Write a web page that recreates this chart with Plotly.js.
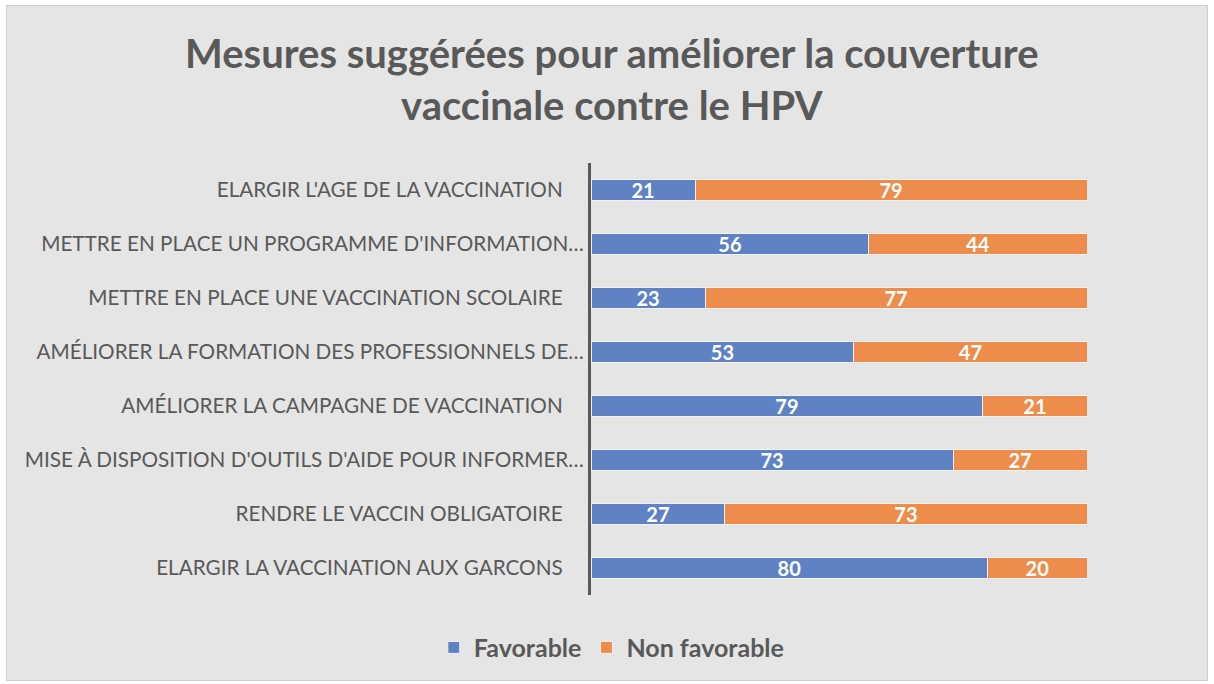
<!DOCTYPE html>
<html>
<head>
<meta charset="utf-8">
<script src="https://cdn.plot.ly/plotly-3.0.1.min.js"></script>
<style>
  body { margin: 0; background: #ffffff; }
  #chart {
    position: absolute; left: 6px; top: 5px;
    width: 1200px; height: 674px;
    border: 1px solid #cfcfcf;
  }
</style>
</head>
<body>
<div id="chart"></div>
<script>
// mesures proposées (de haut en bas)
var mesures = [
    "ELARGIR L'AGE DE LA VACCINATION ",
    "METTRE EN PLACE UN PROGRAMME D'INFORMATION…",
    "METTRE EN PLACE UNE VACCINATION SCOLAIRE ",
    "AMÉLIORER LA FORMATION DES PROFESSIONNELS DE…",
    "AMÉLIORER LA CAMPAGNE DE VACCINATION ",
    "MISE À DISPOSITION D'OUTILS D'AIDE POUR INFORMER…",
    "RENDRE LE VACCIN OBLIGATOIRE ",
    "ELARGIR LA VACCINATION AUX GARCONS "
];
var favorable = [21, 56, 23, 53, 79, 73, 27, 80];
var nonFavorable = [79, 44, 77, 47, 21, 27, 73, 20];

var grey = '#595959';
var fontFam = 'Lato, "Open Sans", sans-serif';

// l'espace final est gardé visible comme dans Excel
var etiquettes = mesures.map(function (s) {
    return s.replace(/ $/, '\u00a0\u00a0\u00a0\u00a0');
});

var trace1 = {
    type: 'bar',
    orientation: 'h',
    name: 'Favorable',
    y: mesures,
    x: favorable,
    text: favorable.map(String),
    textposition: 'inside',
    insidetextanchor: 'middle',
    textangle: 0,
    constraintext: 'none',
    textfont: {family: fontFam, size: 20, color: '#ffffff', weight: 'bold'},
    marker: {color: '#5e82c3', line: {color: '#f2f2f2', width: 1}},
    width: 0.4
};

var trace2 = {
    type: 'bar',
    orientation: 'h',
    name: 'Non favorable',
    y: mesures,
    x: nonFavorable,
    text: nonFavorable.map(String),
    textposition: 'inside',
    insidetextanchor: 'middle',
    textangle: 0,
    constraintext: 'none',
    textfont: {family: fontFam, size: 20, color: '#ffffff', weight: 'bold'},
    marker: {color: '#ee8c4b', line: {color: '#f2f2f2', width: 1}},
    width: 0.4
};

var layout = {
    barmode: 'stack',
    paper_bgcolor: '#e4e5e4',
    plot_bgcolor: '#e4e5e4',
    width: 1200,
    height: 674,
    margin: {l: 584, r: 120, t: 157, b: 85},
    title: {
        text: 'Mesures suggérées pour améliorer la couverture<br>vaccinale contre le HPV',
        font: {family: fontFam, size: 40, color: grey, weight: 'bold'},
        xref: 'container', x: 0.504, xanchor: 'center',
        yref: 'container', y: 0.908, yanchor: 'top'
    },
    xaxis: {
        range: [0, 100],
        showgrid: false,
        zeroline: false,
        showticklabels: false,
        fixedrange: true
    },
    yaxis: {
        autorange: 'reversed',
        tickmode: 'array',
        tickvals: mesures,
        ticktext: etiquettes,
        showline: true,
        linecolor: grey,
        linewidth: 3,
        ticks: '',
        ticklabelstandoff: 0,
        tickfont: {family: fontFam, size: 20.7, color: grey},
        automargin: false
    },
    showlegend: true,
    legend: {
        orientation: 'h',
        xref: 'container', x: 0.504, xanchor: 'center',
        yref: 'container', y: 0.048, yanchor: 'middle',
        font: {family: fontFam, size: 25, color: grey, weight: 'bold'},
        itemwidth: 30,
        traceorder: 'normal',
        bgcolor: 'rgba(0,0,0,0)'
    },
    bargap: 0.6
};

Plotly.newPlot('chart', [trace1, trace2], layout, {displayModeBar: false, staticPlot: true});
</script>
</body>
</html>
